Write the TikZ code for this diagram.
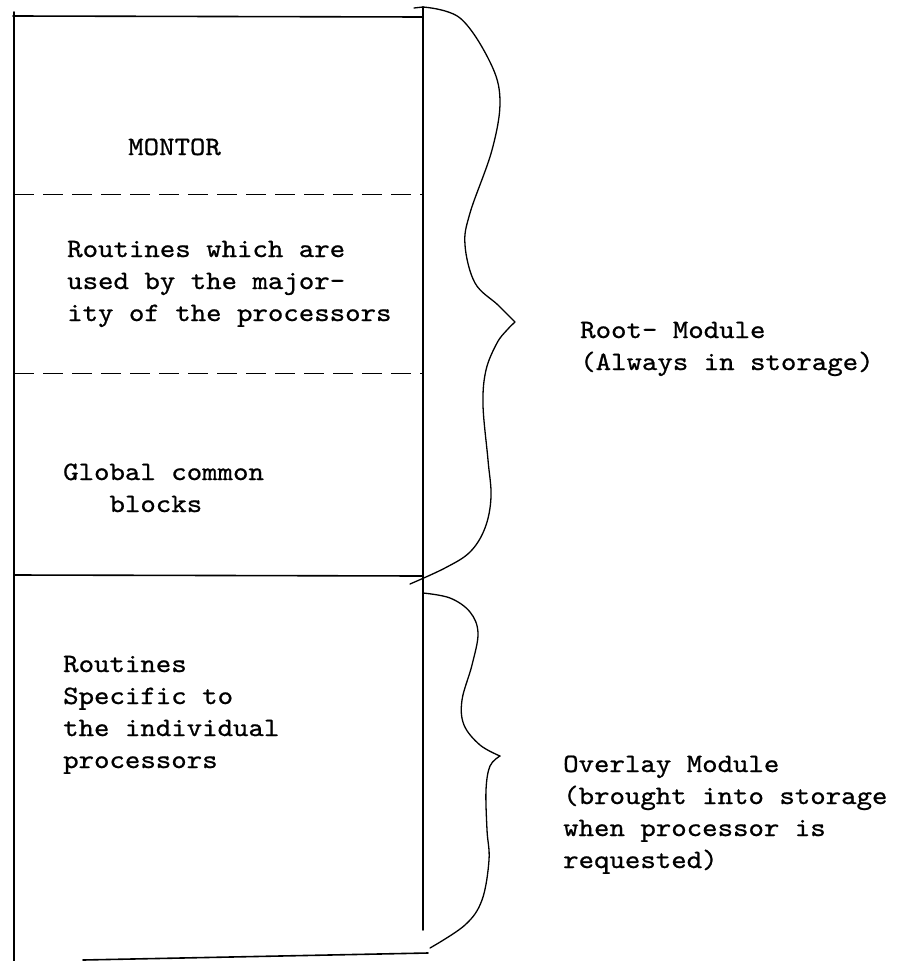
\documentclass[tikz,border=0pt]{standalone}
\usepackage{fontspec}
\setmonofont{lmmono10-regular.otf}[FakeStretch=1.11,FakeBold=0.8]
\begin{document}
\begin{tikzpicture}[x=1pt,y=-1pt,
  box/.style={line width=1.6pt, line cap=round},
  divider/.style={line width=1pt, dash pattern=on 20pt off 9pt},
  bracestyle/.style={line width=1.3pt, line cap=round, line join=round},
  lbl/.style={anchor=base west, inner sep=0pt, font=\ttfamily\fontsize{26.5}{32}\selectfont}]
\useasboundingbox (0,0) rectangle (899,961);
\fill[white] (0,0) rectangle (899,961);

% box frame
\coordinate (ltop) at (14,12);
\coordinate (lbot) at (14,961);
\coordinate (rtop) at (423,7);
\coordinate (rbot) at (423,930);
\draw[box] (ltop) -- (lbot);
\draw[box] (rtop) -- (rbot);
\coordinate (t1) at (13,16); \coordinate (t2) at (423,17);
\draw[box] (t1) -- (t2);
\coordinate (d1a) at (14,194); \coordinate (d1b) at (423,194);
\draw[divider] (d1a) -- (d1b);
\coordinate (d2a) at (14,373); \coordinate (d2b) at (423,373);
\draw[divider] (d2a) -- (d2b);
\coordinate (s1a) at (14,575); \coordinate (s1b) at (423,576);
\draw[box] (s1a) -- (s1b);
\coordinate (b1) at (83,960); \coordinate (b2) at (428,953);
\draw[box] (b1) -- (b2);

% texts in the box
\node[lbl] (montor) at (128,155) {MONTOR};
\node[lbl] (common) at (67,257) {\begin{tabular}[t]{@{}l@{}}Routines which are\\used by the major-\\ity of the processors\end{tabular}};
\node[lbl] (global) at (63,480) {\begin{tabular}[t]{@{}l@{}}Global common\\\phantom{Glo}blocks\end{tabular}};
\node[lbl] (specific) at (63,672) {\begin{tabular}[t]{@{}l@{}}Routines\\Specific to\\the individual\\processors\end{tabular}};

% braces
\coordinate (tick) at (414,8);
\draw[bracestyle] (tick) -- (rtop);
\draw[bracestyle] plot[smooth, tension=0.6] coordinates {(423,7) (460,18) (490,62) (500,100) (492,150) (470,213) (465,245) (475,283) (498,305) (515,322)};
\draw[bracestyle] plot[smooth, tension=0.6] coordinates {(515,322) (507,330) (497,343) (486,370) (483,405) (488,460) (491,497) (485,528) (470,552) (445,568) (410,584)};
\draw[bracestyle] plot[smooth, tension=0.6] coordinates {(423,593) (450,598) (470,612) (478,633) (472,665) (462,700) (464,725) (480,745) (500,756)};
\draw[bracestyle] plot[smooth, tension=0.6] coordinates {(500,756) (490,766) (486,790) (487,830) (489,860) (482,900) (465,925) (430,948)};

% labels
\node[lbl] (root) at (580,338) {\begin{tabular}[t]{@{}l@{}}Root- Module\\(Always in storage)\end{tabular}};
\node[lbl] (overlay) at (563,772) {\begin{tabular}[t]{@{}l@{}}Overlay Module\\(brought into storage\\when processor is\\requested)\end{tabular}};
\end{tikzpicture}
\end{document}
